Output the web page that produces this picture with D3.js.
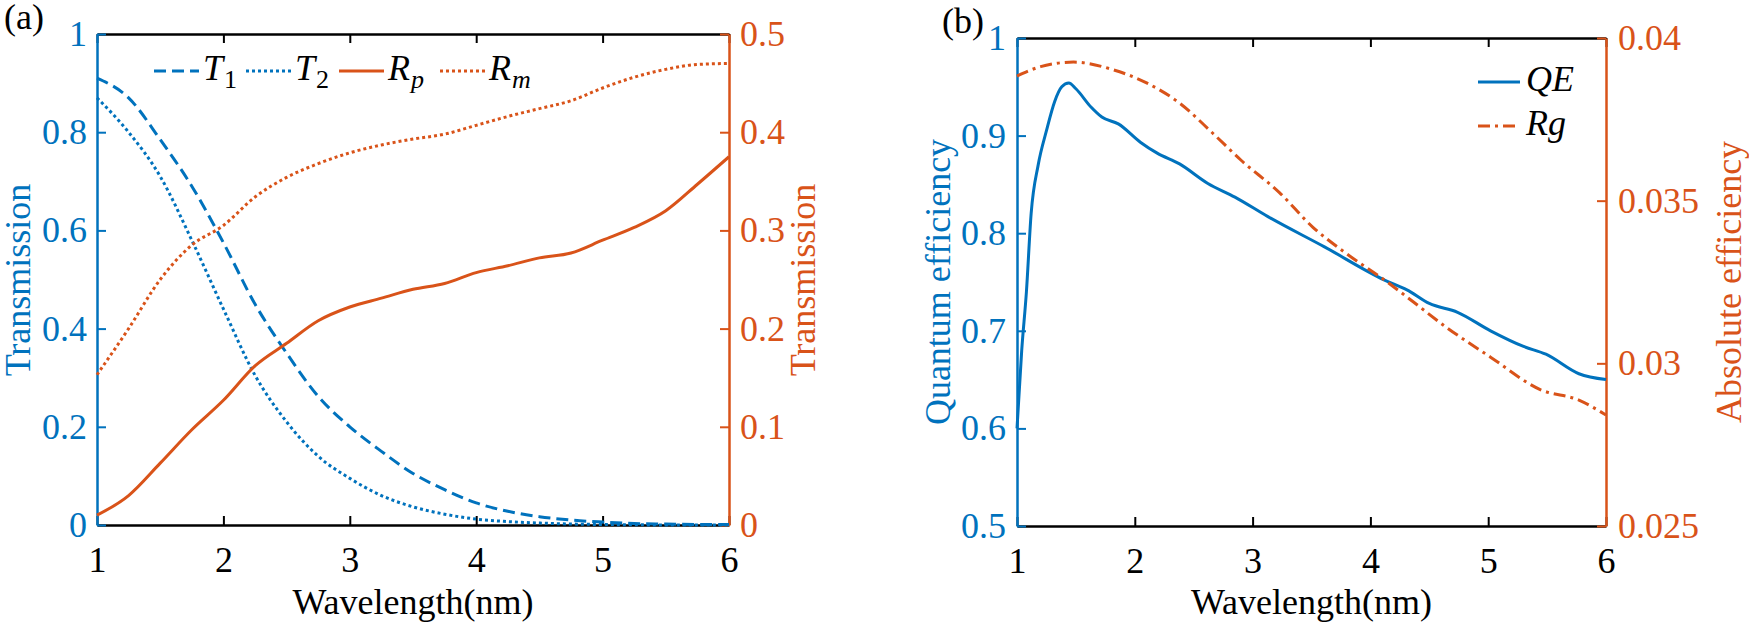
<!DOCTYPE html>
<html>
<head>
<meta charset="utf-8">
<script src="https://cdn.jsdelivr.net/npm/d3@7"></script>
</head>
<body style="margin:0">
<svg id="chart" width="1749" height="623"></svg>
<script>
// ---- data, panel (a) ----
var wlA = [1, 1.25, 1.5, 1.75, 2, 2.25, 2.5, 2.75, 3, 3.25, 3.5, 3.75, 4, 4.25, 4.5, 4.75, 5, 5.25, 5.5, 5.75, 6];
var T1 = [0.91, 0.87, 0.785, 0.69, 0.575, 0.45, 0.35, 0.262, 0.2, 0.15, 0.105, 0.072, 0.045, 0.028, 0.017, 0.01, 0.006, 0.003, 0.002, 0.001, 0.001];
var T2 = [0.87, 0.8, 0.71, 0.58, 0.44, 0.305, 0.21, 0.14, 0.095, 0.06, 0.037, 0.022, 0.012, 0.007, 0.004, 0.002, 0.001, 0.0005, 0, 0, 0];
var Rp = [0.01, 0.03, 0.063, 0.097, 0.127, 0.162, 0.185, 0.208, 0.222, 0.231, 0.24, 0.246, 0.257, 0.264, 0.272, 0.277, 0.29, 0.303, 0.32, 0.347, 0.375];
var Rm = [0.153, 0.2, 0.25, 0.285, 0.305, 0.334, 0.354, 0.368, 0.379, 0.387, 0.393, 0.398, 0.407, 0.416, 0.424, 0.432, 0.445, 0.456, 0.464, 0.469, 0.47];

// ---- data, panel (b) ----
var wlQE = [1, 1.04, 1.08, 1.12, 1.18, 1.25, 1.32, 1.38, 1.44, 1.5, 1.63, 1.72, 1.86, 2.05, 2.19, 2.38, 2.62, 2.85, 3.13, 3.61, 4.12, 4.31, 4.5, 4.74, 5.02, 5.3, 5.49, 5.77, 6];
var QE = [0.6, 0.68, 0.74, 0.82, 0.87, 0.905, 0.935, 0.95, 0.954, 0.948, 0.929, 0.919, 0.912, 0.893, 0.882, 0.871, 0.851, 0.837, 0.817, 0.786, 0.752, 0.742, 0.728, 0.719, 0.7, 0.684, 0.676, 0.656, 0.65];
var wlRg = [1, 1.2, 1.48, 1.82, 2.1, 2.38, 2.66, 2.9, 3.23, 3.51, 3.79, 4.12, 4.36, 4.64, 5.02, 5.45, 5.77, 6];
var Rg = [0.03883, 0.03912, 0.03926, 0.03902, 0.03862, 0.038, 0.03708, 0.03625, 0.03524, 0.03419, 0.03339, 0.03256, 0.0319, 0.03112, 0.03019, 0.02918, 0.02887, 0.02841];

// ---- ticks ----
var xTicks = [1, 2, 3, 4, 5, 6];
var yTicksA = [0, 0.2, 0.4, 0.6, 0.8, 1];
var yTicksA2 = [0, 0.1, 0.2, 0.3, 0.4, 0.5];
var yTicksB = [0.5, 0.6, 0.7, 0.8, 0.9, 1];
var yTicksB2 = [0.025, 0.03, 0.035, 0.04];

var blue = "#0072BD", orange = "#D95319";
var FS = 36;
var FONT = "'Liberation Serif'";

var svg = d3.select("#chart").style("font-family", FONT);

function styleAxis(g, color, showText) {
  g.attr("font-size", null).attr("font-family", null);
  g.select(".domain").attr("stroke", color).attr("stroke-width", 2.5);
  g.selectAll(".tick line").attr("stroke", color).attr("stroke-width", 2);
  g.selectAll(".tick text").attr("fill", color)
    .attr("font-size", FS).style("font-family", FONT);
  if (!showText) g.selectAll(".tick text").remove();
}

function label(x, y, txt) {
  return svg.append("text").attr("x", x).attr("y", y)
    .attr("font-size", FS).style("font-family", FONT).text(txt);
}

function panel(box, yDomL, yDomR, ticksL, ticksR) {
  var x = d3.scaleLinear().domain([1, 6]).range([box.left, box.right]);
  var yL = d3.scaleLinear().domain(yDomL).range([box.bottom, box.top]);
  var yR = d3.scaleLinear().domain(yDomR).range([box.bottom, box.top]);
  var fmt = function (d) { return String(d); };

  svg.append("g")
    .attr("transform", "translate(0," + box.bottom + ")")
    .call(d3.axisBottom(x).tickValues(xTicks).tickFormat(fmt).tickSize(-9).tickSizeOuter(0).tickPadding(21))
    .call(styleAxis, "#000", true);
  svg.append("g")
    .attr("transform", "translate(0," + box.top + ")")
    .call(d3.axisTop(x).tickValues(xTicks).tickSize(-9).tickSizeOuter(0))
    .call(styleAxis, "#000", false);
  svg.append("g")
    .attr("transform", "translate(" + box.left + ",0)")
    .call(d3.axisLeft(yL).tickValues(ticksL).tickFormat(fmt).tickSize(-9).tickSizeOuter(0).tickPadding(box.padL))
    .call(styleAxis, blue, true);
  svg.append("g")
    .attr("transform", "translate(" + box.right + ",0)")
    .call(d3.axisRight(yR).tickValues(ticksR).tickFormat(fmt).tickSize(-9).tickSizeOuter(0).tickPadding(box.padR))
    .call(styleAxis, orange, true);

  label((box.left + box.right) / 2, 614, "Wavelength(nm)").attr("text-anchor", "middle");
  return { x: x, yL: yL, yR: yR };
}

function curve(x, y, xs, ys, color, dash) {
  svg.append("path")
    .datum(d3.zip(xs, ys))
    .attr("fill", "none")
    .attr("stroke", color)
    .attr("stroke-width", 3)
    .attr("stroke-dasharray", dash)
    .attr("d", d3.line().x(function (d) { return x(d[0]); }).y(function (d) { return y(d[1]); }).curve(d3.curveMonotoneX));
}

function ylabel(text, xb, yc, color) {
  label(0, 0, text)
    .attr("transform", "translate(" + xb + "," + yc + ") rotate(-90)")
    .attr("text-anchor", "middle").attr("fill", color);
}

// legend label: italic main text, optional subscript
function mathText(x, y, main, sub, subItalic) {
  var t = svg.append("text").attr("x", x).attr("y", y).attr("font-size", FS).style("font-family", FONT);
  t.append("tspan").style("font-style", "italic").text(main);
  if (sub) {
    t.append("tspan").attr("font-size", 26).attr("dy", 8).attr("dx", 1)
      .style("font-style", subItalic ? "italic" : "normal").text(sub);
  }
  return t;
}

function legendLine(x1, x2, y, color, dash) {
  svg.append("line").attr("x1", x1).attr("x2", x2).attr("y1", y).attr("y2", y)
    .attr("stroke", color).attr("stroke-width", 3).attr("stroke-dasharray", dash);
}

var dashed = "12,6", dotted = "3,3", dashDot = "12,5,3,5";

// ---------- panel (a) ----------
var A = panel({ left: 97, right: 729, top: 34, bottom: 525, padL: 10, padR: 11 }, [0, 1], [0, 0.5], yTicksA, yTicksA2);
curve(A.x, A.yL, wlA, T1, blue, dashed);
curve(A.x, A.yL, wlA, T2, blue, dotted);
curve(A.x, A.yR, wlA, Rp, orange, null);
curve(A.x, A.yR, wlA, Rm, orange, dotted);
ylabel("Transmission", 30, 280, blue);
ylabel("Transmission", 815, 280, orange);
label(4, 29, "(a)");

// horizontal legend (x = start of each sample line)
var legA = [
  { x: 154, main: "T", sub: "1", it: false, color: blue, dash: dashed },
  { x: 246, main: "T", sub: "2", it: false, color: blue, dash: dotted },
  { x: 339, main: "R", sub: "p", it: true, color: orange, dash: null },
  { x: 440, main: "R", sub: "m", it: true, color: orange, dash: dotted }
];
legA.forEach(function (d) {
  legendLine(d.x, d.x + 45, 71, d.color, d.dash);
  mathText(d.x + 49, 80, d.main, d.sub, d.it);
});

// ---------- panel (b) ----------
var B = panel({ left: 1017, right: 1606, top: 38, bottom: 526, padL: 11, padR: 12 }, [0.5, 1], [0.025, 0.04], yTicksB, yTicksB2);
curve(B.x, B.yL, wlQE, QE, blue, null);
curve(B.x, B.yR, wlRg, Rg, orange, dashDot);
ylabel("Quantum efficiency", 950, 282, blue);
ylabel("Absolute efficiency", 1741, 282, orange);
label(942, 33, "(b)");

var legB = [
  { main: "QE", color: blue, dash: null, y: 82 },
  { main: "Rg", color: orange, dash: dashDot, y: 126 }
];
legB.forEach(function (d) {
  legendLine(1478, 1520, d.y, d.color, d.dash);
  mathText(1526, d.y + 9, d.main, null, false);
});
</script>
</body>
</html>
